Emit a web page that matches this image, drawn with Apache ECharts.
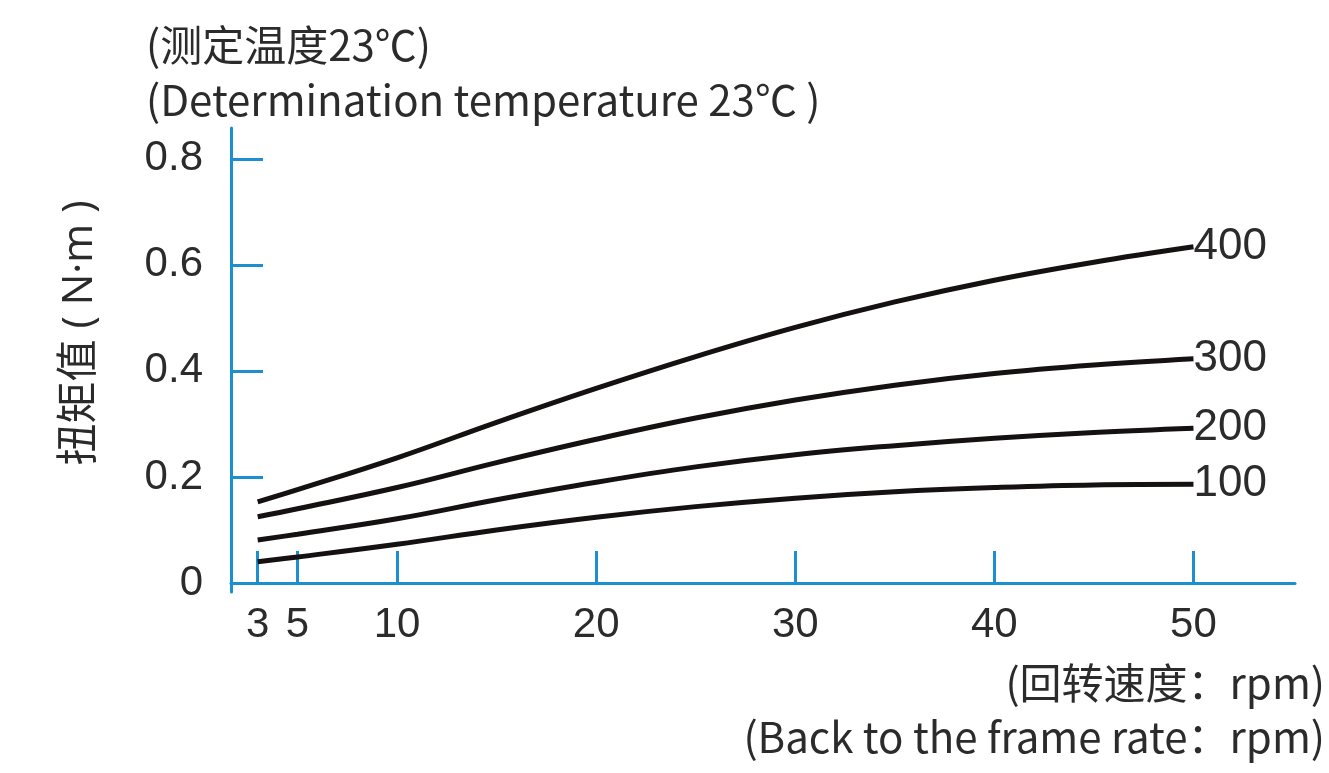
<!DOCTYPE html>
<html>
<head>
<meta charset="utf-8">
<script src="https://cdn.jsdelivr.net/npm/echarts@6/dist/echarts.min.js"></script>
<style>
html,body{margin:0;padding:0;background:#fff;}
#chart{width:1329px;height:773px;}
</style>
</head>
<body>
<div id="chart"></div>
<script>
const speeds = [3, 5, 10, 15, 20, 25, 30, 35, 40, 45, 50];
const torque400 = [0.153, 0.176, 0.236, 0.303, 0.367, 0.427, 0.482, 0.530, 0.571, 0.605, 0.634];
const torque300 = [0.125, 0.140, 0.180, 0.227, 0.271, 0.311, 0.345, 0.373, 0.395, 0.411, 0.423];
const torque200 = [0.081, 0.092, 0.121, 0.157, 0.190, 0.219, 0.242, 0.259, 0.273, 0.284, 0.292];
const torque100 = [0.040, 0.049, 0.073, 0.100, 0.124, 0.144, 0.160, 0.172, 0.180, 0.185, 0.186];
const seriesNames = ['400', '300', '200', '100'];
const xTicks = [3, 5, 10, 20, 30, 40, 50];
const yTicks = [0, 0.2, 0.4, 0.6, 0.8];
const yTickMarks = [0.2, 0.4, 0.6, 0.8];
const titleCn = '(测定温度23℃)';
const titleEn = '(Determination temperature 23℃ )';
const xNameCn = '(回转速度：rpm)';
const xNameEn = '(Back to the frame rate：rpm)';
const yName = '扭矩值 ( N·m )';

const blue = '#1b8fcf';
const textColor = '#2b2b2b';
const cjkFont = '"Noto Sans CJK SC", "Open Sans", sans-serif';
const latinFirstFont = '"Open Sans", "Noto Sans CJK SC", sans-serif';
const numFont = '"Liberation Sans", Arial, sans-serif';

const allData = [torque400, torque300, torque200, torque100];
const series = allData.map((arr, i) => ({
  name: seriesNames[i],
  type: 'line',
  smooth: 0.4,
  showSymbol: false,
  silent: true,
  data: speeds.map((s, j) => [s, arr[j]]),
  lineStyle: { color: '#151111', width: 5 },
  endLabel: {
    show: true,
    formatter: '{a}',
    distance: 0,
    color: textColor,
    fontFamily: numFont,
    fontSize: 44
  }
}));

const chart = echarts.init(document.getElementById('chart'));
chart.setOption({
  animation: false,
  backgroundColor: '#fff',
  grid: { left: 231, right: 34, top: 128, bottom: 181 },
  xAxis: {
    type: 'value',
    min: 1.66,
    max: 55.1,
    axisLine: { show: true, lineStyle: { color: blue, width: 3 } },
    axisTick: { show: true, inside: true, length: 32, customValues: xTicks, lineStyle: { color: blue, width: 3 } },
    axisLabel: { customValues: xTicks, margin: 12, color: textColor, fontFamily: numFont, fontSize: 42 },
    splitLine: { show: false }
  },
  yAxis: {
    type: 'value',
    min: -0.017,
    max: 0.858,
    axisLine: { show: true, lineStyle: { color: blue, width: 3 } },
    axisTick: { show: true, inside: true, length: 32, customValues: yTickMarks, lineStyle: { color: blue, width: 3 } },
    axisLabel: { customValues: yTicks, margin: 28, color: textColor, fontFamily: numFont, fontSize: 42,
      formatter: v => (v === 0 ? '0' : v.toFixed(1)) },
    splitLine: { show: false }
  },
  graphic: [
    { type: 'text', left: 146, top: 24, style: { text: titleCn, fill: textColor, font: '42px ' + cjkFont } },
    { type: 'text', left: 146, top: 79, style: { text: titleEn, fill: textColor, font: '42px ' + cjkFont } },
    { type: 'text', right: 4, top: 662, style: { text: xNameCn, fill: textColor, font: '42px ' + cjkFont } },
    { type: 'text', right: 4, top: 716, style: { text: xNameEn, fill: textColor, font: '42px ' + cjkFont } },
    { type: 'text', x: 80, y: 333, rotation: Math.PI / 2,
      style: { text: yName, fill: textColor, font: '42px ' + latinFirstFont, textAlign: 'center', textVerticalAlign: 'middle' } }
  ],
  series: series
});
</script>
</body>
</html>
